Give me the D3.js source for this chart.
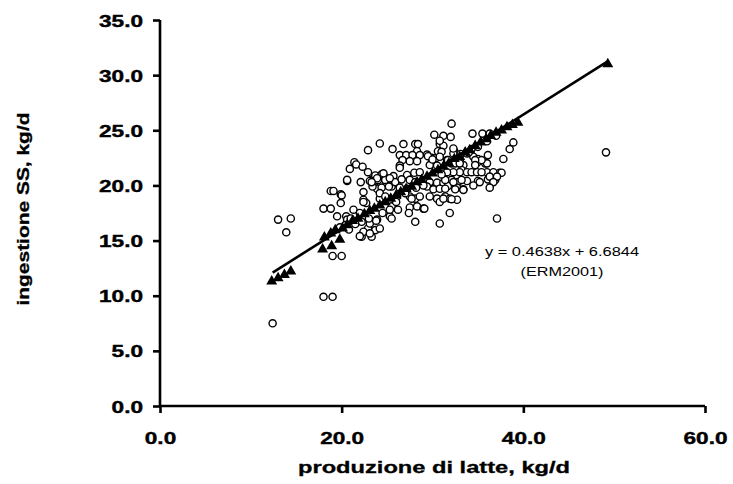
<!DOCTYPE html>
<html><head><meta charset="utf-8">
<script src="https://cdn.jsdelivr.net/npm/d3@7"></script>
<style>
html,body{margin:0;padding:0;background:#fff;}
svg{display:block;}
</style></head>
<body>
<svg id="chart" width="733" height="484"></svg>
<script>
// ---- data ----
const xTicks = [0, 20, 40, 60];
const yTicks = [0, 5, 10, 15, 20, 25, 30, 35];
const xLabel = "produzione di latte, kg/d";
const yLabel = "ingestione SS, kg/d";
const eqText = "y = 0.4638x + 6.6844";
const eqSource = "(ERM2001)";

// observed (open circles): milk, intake
const obsX = [12.4,13.0,14.4,13.9,18.0,19.0,18.0,18.8,19.9,20.5,19.8,19.0,20.0,18.8,19.9,20.6,20.9,21.4,21.6,22.3,22.1,22.4,22.7,21.3,22.9,22.9,23.3,24.2,25.6,24.6,24.2,23.9,25.1,25.5,24.2,23.9,22.9,22.2,23.3,25.3,25.5,26.1,
32.1,30.2,31.2,32.0,34.4,35.5,36.3,38.9,38.5,26.8,28.1,28.4,28.3,30.8,31.2,30.6,32.4,26.4,27.1,27.8,28.6,29.4,29.9,30.3,32.3,33.1,33.8,34.5,35.0,37.8,27.5,26.7,28.3,31.6,32.1,26.4,26.4,29.7,30.5,33.4,33.2,34.9,35.8,37.4,36.0,36.7,33.8,34.3,34.9,35.4,23.7,24.4,25.7,27.2,28.0,28.6,20.6,23.1,24.0,24.8,25.9,26.6,27.5,28.1,29.2,29.7,30.5,31.2,32.1,32.8,33.8,35.0,36.1,36.9,23.4,24.4,25.2,26.4,27.2,28.2,29.4,30.1,30.8,31.7,32.7,33.4,19.1,22.4,24.2,24.8,27.5,28.1,28.6,29.7,30.5,31.4,31.9,32.7,20.0,22.4,22.0,25.3,26.2,27.5,28.3,29.0,31.9,37.1,19.5,20.6,20.4,22.2,23.1,23.7,24.2,25.5,27.4,28.1,30.8,22.4,23.1,22.0,
30.8,27.7,23.8,29.1,36.1,36.0,35.4,34.7,34.7,37.6,36.3,37.1,36.7,36.3,35.2,34.5,33.0,32.3,31.6,33.2,32.3,31.4,31.4,32.5,33.4,31.2,32.1,34.3,32.3,31.0,33.0,32.5,31.7,30.8,29.5,30.0,30.8,24.6,25.3,23.9,23.3,
26.0,27.0,29.0,31.0,33.0,34.0,35.0,36.0,37.0,24.5,23.0,21.5,21.0,20.8,49.1];
const obsY = [7.5,16.9,17.0,15.75,9.9,9.9,17.9,17.9,18.4,17.2,16.2,13.6,13.6,19.5,19.2,20.4,21.5,22.1,21.9,21.7,20.3,18.7,18.4,17.8,23.2,21.2,20.5,23.8,23.3,20.9,20.3,19.7,20.6,19.9,18.8,16.9,16.1,15.35,15.35,17.2,18.1,19.0,
25.6,24.6,24.5,24.4,24.7,24.7,24.7,23.9,23.3,23.75,23.75,23.75,23.1,23.75,23.6,23.1,23.1,22.75,22.75,22.75,22.75,22.8,22.5,22.45,22.9,22.85,22.9,22.6,22.4,22.4,22.2,22.3,22.2,22.3,22.0,21.8,21.6,21.85,21.8,21.85,21.4,22.05,22.0,21.15,21.2,21.2,21.2,21.2,21.2,21.2,20.9,21.0,20.85,20.95,21.15,21.2,20.5,20.4,20.5,20.5,20.3,20.55,20.5,20.3,20.5,20.3,20.25,20.25,20.5,20.3,20.4,20.4,20.55,20.5,19.9,19.8,19.9,19.8,19.7,19.8,19.9,19.65,19.7,19.95,19.8,19.65,19.5,19.4,19.3,19.0,19.0,18.8,19.0,19.0,18.8,19.0,18.8,18.7,19.1,18.5,17.5,17.8,17.8,18.0,18.1,17.9,17.5,17.0,17.2,16.9,16.4,16.7,16.55,15.95,16.1,17.0,17.5,16.7,16.55,15.8,15.65,15.4,
18.5,18.8,16.8,17.9,22.75,22.0,22.3,22.3,21.85,21.15,20.8,20.8,20.3,19.8,20.3,20.0,21.2,21.2,21.2,20.5,20.3,20.5,19.7,19.65,19.6,18.8,18.75,23.3,23.35,23.05,22.3,22.0,22.3,24.05,22.65,22.35,22.6,21.1,20.65,20.65,20.3,
18.5,19.3,20.0,21.0,22.0,23.0,23.5,24.0,24.5,17.5,17.0,16.5,17.0,16.0,23.0];

// predicted (filled triangles)
const predX = [12.3,13.0,13.7,14.4,17.9,18.9,19.8,18.1,18.8,19.3,20.1,20.6,21.2,21.8,22.5,23.1,23.6,24.2,24.8,25.4,26.0,26.5,27.1,27.7,28.3,28.8,29.4,30.0,30.6,31.2,31.8,32.4,33.0,33.6,34.1,34.7,35.3,35.9,36.4,37.0,37.6,38.2,38.8,39.4,49.3];
const predY = [11.3,11.6,11.9,12.2,14.2,14.5,15.1,15.3,15.65,15.95,16.1,16.4,16.8,17.0,17.4,17.7,17.9,18.2,18.5,18.8,19.1,19.4,19.7,19.9,20.3,20.5,20.8,21.1,21.4,21.7,22.0,22.4,22.6,23.0,23.2,23.6,23.9,24.2,24.5,24.8,25.0,25.3,25.5,25.7,31.0];

// regression line end points
const lineX = [12.4, 49.2];
const lineY = [12.1, 31.2];

// ---- drawing ----
const svg = d3.select("#chart");
const x = d3.scaleLinear().domain([0, 60]).range([160, 705]);
const y = d3.scaleLinear().domain([0, 35]).range([406, 20]);

function stretch(sel, k) {
  sel.each(function () {
    const w = this.getComputedTextLength();
    d3.select(this).attr("textLength", w * k).attr("lengthAdjust", "spacingAndGlyphs");
  });
}

// axes
const yAxis = svg.append("g").attr("transform", "translate(160,0)")
  .call(d3.axisLeft(y).tickValues(yTicks).tickFormat(d3.format(".1f")).tickSize(7).tickPadding(10));
const xAxis = svg.append("g").attr("transform", "translate(0,406)")
  .call(d3.axisBottom(x).tickValues(xTicks).tickFormat(d3.format(".1f")).tickSize(7).tickPadding(19));
[yAxis, xAxis].forEach(g => {
  g.select(".domain").attr("stroke", "#000").attr("stroke-width", 2.6).attr("d",
    g === yAxis ? "M0,406V20" : "M160,0H705");
  g.selectAll(".tick line").attr("stroke", "#000").attr("stroke-width", 2.6);
  g.selectAll(".tick text").attr("fill", "#000")
    .style("font-family", "'Liberation Sans', Arial, sans-serif")
    .style("font-weight", "bold").style("font-size", "17px")
    .style("stroke", "#000").style("stroke-width", "0.4px");
});
yAxis.selectAll(".tick text").attr("dy", "0.36em");
stretch(yAxis.selectAll(".tick text"), 1.33);
stretch(xAxis.selectAll(".tick text"), 1.33);

// observed circles
const obs = obsX.map((v, i) => [v, obsY[i]]);
svg.append("g").selectAll("circle").data(obs).join("circle")
  .attr("cx", d => x(d[0])).attr("cy", d => y(d[1])).attr("r", 3.6)
  .attr("fill", "#fff").attr("stroke", "#000").attr("stroke-width", 1.4);

// regression line
svg.append("path")
  .datum(lineX.map((v, i) => [v, lineY[i]]))
  .attr("d", d3.line().x(d => x(d[0])).y(d => y(d[1])))
  .attr("stroke", "#000").attr("stroke-width", 2.6).attr("fill", "none");

// predicted triangles
const pred = predX.map((v, i) => [v, predY[i]]);
svg.append("g").selectAll("path").data(pred).join("path")
  .attr("transform", d => `translate(${x(d[0])},${y(d[1])})`)
  .attr("d", d3.symbol(d3.symbolTriangle, 52))
  .attr("fill", "#000");

// axis titles
const titleStyle = sel => sel.style("font-family", "'Liberation Sans', Arial, sans-serif")
  .style("font-weight", "bold").style("font-size", "17px")
  .style("stroke", "#000").style("stroke-width", "0.3px");
svg.append("text").attr("x", 434).attr("y", 473).attr("text-anchor", "middle")
  .call(titleStyle).attr("textLength", 272).attr("lengthAdjust", "spacingAndGlyphs").text(xLabel);
svg.append("text").attr("transform", "translate(29,209) rotate(-90)").attr("text-anchor", "middle")
  .call(titleStyle).attr("textLength", 193).attr("lengthAdjust", "spacingAndGlyphs").text(yLabel);

// equation annotation
svg.append("text").attr("x", 562).attr("y", 256).attr("text-anchor", "middle")
  .style("font-family", "'Liberation Sans', Arial, sans-serif").style("font-size", "13px")
  .attr("textLength", 154).attr("lengthAdjust", "spacingAndGlyphs").text(eqText);
svg.append("text").attr("x", 562).attr("y", 276).attr("text-anchor", "middle")
  .style("font-family", "'Liberation Sans', Arial, sans-serif").style("font-size", "13px")
  .attr("textLength", 83).attr("lengthAdjust", "spacingAndGlyphs").text(eqSource);
</script>
</body></html>
